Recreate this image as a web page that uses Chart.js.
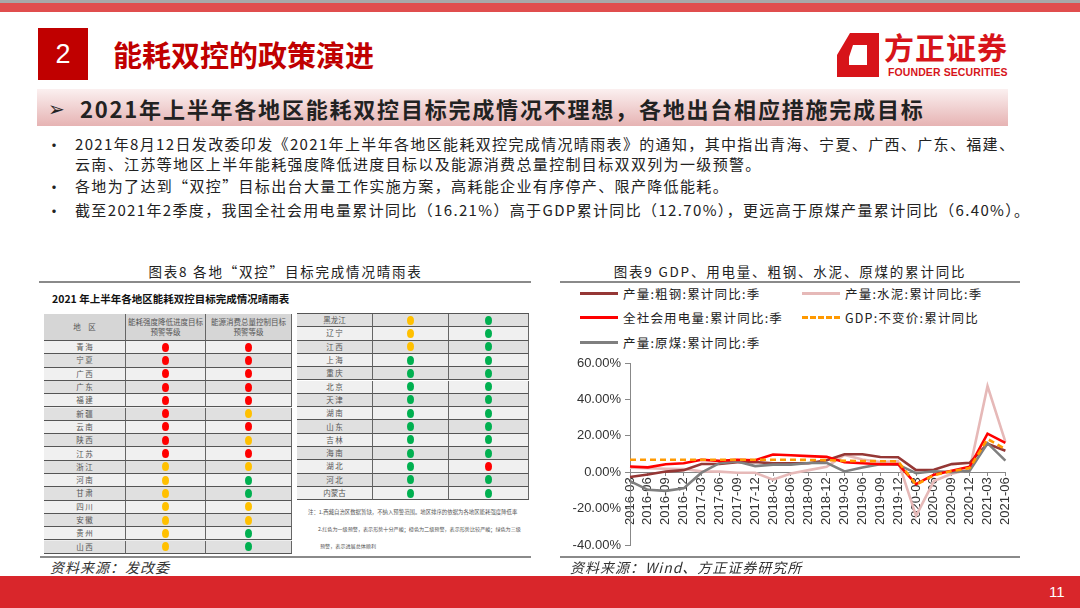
<!DOCTYPE html>
<html>
<head>
<meta charset="utf-8">
<script src="https://cdn.jsdelivr.net/npm/chart.js@4.4.1/dist/chart.umd.min.js"></script>
<style>
  body { margin: 0; width: 1080px; height: 608px; position: relative; overflow: hidden; background: #fff;
         font-family: "Noto Sans CJK SC", sans-serif; color: #222; }
  .abs { position: absolute; white-space: nowrap; }
  .bullet { position: absolute; left: 46px; font-size: 16px; line-height: 20px; }
  .line { position: absolute; left: 75px; font-size: 15px; letter-spacing: 1.35px; white-space: nowrap; line-height: 20px; }
  .cell { position: absolute; box-sizing: border-box; border-right: 1px solid #666; border-bottom: 1px solid #555;
          font-size: 7.5px; color: #555; text-align: center; display: flex; align-items: center; justify-content: center; line-height: 10px; }
  .dot { width: 7px; height: 9px; border-radius: 50%; display: inline-block; }
  .leg { position: absolute; font-size: 12.5px; letter-spacing: 1.2px; color: #222; white-space: nowrap; }
</style>
</head>
<body>

<!-- header -->
<div class="abs" style="left:0;top:0;width:1080px;height:3px;background:#a8a8a8"></div>
<div class="abs" style="left:0;top:3px;width:1080px;height:9px;background:#e04e4e"></div>
<div class="abs" style="left:38px;top:28px;width:50px;height:52px;background:#c00000;color:#fff;font-size:27px;font-family:'Liberation Sans',sans-serif;text-align:center;line-height:52px">2</div>
<div class="abs" style="left:113px;top:34px;font-size:29px;font-weight:bold;color:#c00000;line-height:40px">能耗双控的政策演进</div>

<svg class="abs" style="left:830px;top:28px" width="56" height="56">
  <path fill="#d7141a" fill-rule="evenodd"
        d="M20 5 L49 5 L49 49 L7 49 L7 27 Z M23 17 L37 17 L37 37 L19 37 L19 29 Z"/>
</svg>
<div class="abs" style="left:884px;top:29px;font-size:30px;font-weight:bold;color:#d7141a;line-height:34px;letter-spacing:1px">方正证券</div>
<div class="abs" style="left:888px;top:67px;font-size:10.5px;font-weight:bold;color:#d7141a;font-family:'Liberation Sans',sans-serif;letter-spacing:0.1px;line-height:11px">FOUNDER SECURITIES</div>

<!-- subtitle band -->
<div class="abs" style="left:37px;top:89px;width:971px;height:37px;background:linear-gradient(to bottom,#fbf0f0,#e6b3b3)"></div>
<div class="abs" style="left:48px;top:92px;font-size:20px;line-height:32px;color:#222">➢</div>
<div class="abs" style="left:80px;top:91px;font-size:22px;font-weight:bold;letter-spacing:1.8px;line-height:34px;color:#222">2021年上半年各地区能耗双控目标完成情况不理想，各地出台相应措施完成目标</div>

<!-- bullets -->
<div class="bullet" style="top:134px">•</div>
<div class="line" style="top:134px">2021年8月12日发改委印发《2021年上半年各地区能耗双控完成情况晴雨表》的通知，其中指出青海、宁夏、广西、广东、福建、</div>
<div class="line" style="top:154px">云南、江苏等地区上半年能耗强度降低进度目标以及能源消费总量控制目标双双列为一级预警。</div>
<div class="bullet" style="top:176px">•</div>
<div class="line" style="top:176px">各地为了达到“双控”目标出台大量工作实施方案，高耗能企业有序停产、限产降低能耗。</div>
<div class="bullet" style="top:200px">•</div>
<div class="line" style="top:200px">截至2021年2季度，我国全社会用电量累计同比（16.21%）高于GDP累计同比（12.70%），更远高于原煤产量累计同比（6.40%）。</div>

<!-- captions -->
<div class="abs" style="left:40px;top:262px;width:491px;text-align:center;font-size:13.5px;letter-spacing:1.8px;line-height:18px">图表8 各地“双控”目标完成情况晴雨表</div>
<div class="abs" style="left:39px;top:281px;width:492px;height:2px;background:#8a8a8a"></div>
<div class="abs" style="left:560px;top:262px;width:460px;text-align:center;font-size:13.5px;letter-spacing:1.8px;line-height:18px">图表9 GDP、用电量、粗钢、水泥、原煤的累计同比</div>
<div class="abs" style="left:560px;top:281px;width:460px;height:2px;background:#8a8a8a"></div>

<!-- left table -->
<div class="abs" style="left:52px;top:291px;font-size:10.5px;font-weight:bold;color:#111;line-height:16px">2021 年上半年各地区能耗双控目标完成情况晴雨表</div>
<div id="tables"></div>
<div class="abs" style="left:308px;top:508px;font-size:5.4px;color:#555">注：1.西藏自治区数据暂缺，不纳入预警范围。地区排序的依据为各地区能耗强度降低率</div>
<div class="abs" style="left:318px;top:525px;font-size:5.1px;color:#555">2.红色为一级预警，表示形势十分严峻；橙色为二级预警，表示形势比较严峻；绿色为三级</div>
<div class="abs" style="left:320px;top:542px;font-size:5.1px;color:#555">预警，表示进展总体顺利</div>

<!-- right chart -->
<div id="legend"></div>
<div class="abs" style="left:560px;top:350px;width:463px;height:207px">
  <canvas id="myChart"></canvas>
</div>

<!-- footer -->
<div class="abs" style="left:40px;top:556px;width:491px;height:2px;background:#8a8a8a"></div>
<div class="abs" style="left:560px;top:556px;width:460px;height:2px;background:#8a8a8a"></div>
<div class="abs" style="left:50px;top:558px;font-size:14px;font-style:italic;color:#333;line-height:18px;letter-spacing:1px">资料来源：发改委</div>
<div class="abs" style="left:570px;top:558px;font-size:14px;font-style:italic;color:#333;line-height:18px;letter-spacing:1px">资料来源：Wind、方正证券研究所</div>
<div class="abs" style="left:0;top:576px;width:1080px;height:32px;background:#d9262b"></div>
<div class="abs" style="left:1049px;top:583px;font-size:15px;color:#fff;font-family:'Liberation Sans',sans-serif;line-height:18px">11</div>

<script>
// line chart data (cumulative yoy, %)
const quarters = ['2016-03','2016-06','2016-09','2016-12','2017-03','2017-06','2017-09','2017-12',
  '2018-03','2018-06','2018-09','2018-12','2019-03','2019-06','2019-09','2019-12',
  '2020-03','2020-06','2020-09','2020-12','2021-03','2021-06'];
const steel = [-2.6,-1.2,0.4,1.2,4.6,4.6,5.6,5.7,4.9,5.0,5.0,6.6,9.9,9.9,8.4,8.3,1.2,1.4,4.5,5.2,15.6,11.8];
const cement = [2.5,2.2,2.0,1.8,0.5,0.4,-0.2,-0.2,-4.0,-0.6,1.2,3.0,9.5,7.0,5.7,6.1,-23.9,-4.8,-0.8,1.6,47.3,16.7];
const power = [3.2,2.7,4.4,5.0,6.9,6.3,6.9,6.6,9.8,9.4,8.9,8.5,5.5,5.0,4.4,4.5,-6.5,-1.3,0.9,3.1,21.2,16.21];
const gdp = [6.9,6.9,6.9,6.9,6.9,6.9,6.9,6.9,6.9,6.9,6.8,6.7,6.3,6.2,6.1,6.0,-6.8,-1.6,0.7,2.3,18.3,12.7];
const coal = [-4.8,-9.6,-10.2,-8.8,-0.2,5.0,5.9,3.4,4.2,4.2,5.1,5.2,0.5,2.6,4.5,4.2,-0.5,0.6,0.1,0.9,16.0,6.4];
const yTicks = [-40, -20, 0, 20, 40, 60];

const seriesNames = ['产量:粗钢:累计同比:季','产量:水泥:累计同比:季','全社会用电量:累计同比:季','GDP:不变价:累计同比','产量:原煤:累计同比:季'];
const seriesColors = ['#953735','#e6b9b8','#ff0000','#ff9900','#7f7f7f'];
const seriesData = [steel, cement, power, gdp, coal];
const drawOrder = [3, 4, 1, 0, 2]; // lower = on top

// weather table data
const leftRegions = ['青 海','宁 夏','广 西','广 东','福 建','新 疆','云 南','陕 西','江 苏','浙 江','河 南','甘 肃','四 川','安 徽','贵 州','山 西'];
const leftIntensity = ['r','r','r','r','r','r','r','r','r','y','y','y','y','y','y','y'];
const leftTotal = ['r','r','r','r','r','y','r','y','r','y','g','g','y','y','g','g'];
const rightRegions = ['黑龙江','辽 宁','江 西','上 海','重 庆','北 京','天 津','湖 南','山 东','吉 林','海 南','湖 北','河 北','内蒙古'];
const rightIntensity = ['y','y','y','g','g','g','g','g','g','g','g','g','g','g'];
const rightTotal = ['g','g','g','g','g','g','g','g','g','g','g','r','g','g'];
const dotColors = { r: '#ff0000', y: '#ffc000', g: '#00b050' };

function cell(x, y, w, h, bg, html) {
  return `<div class="cell" style="left:${x}px;top:${y}px;width:${w}px;height:${h}px;background:${bg}">${html}</div>`;
}
function dot(c) {
  return `<span class="dot" style="background:${dotColors[c]}"></span>`;
}

function buildTables() {
  let html = '';
  const rowH = 13.3;
  // left
  const lx = [44, 126, 206], lw = [82, 80, 86];
  const headTop = 314, headH = 27;
  html += `<div class="abs" style="left:44px;top:${headTop}px;width:248px;height:${headH + rowH * leftRegions.length}px;background:#eee"></div>`;
  html += cell(lx[0], headTop, lw[0], headH, '#d6d6d6', '地　区');
  html += cell(lx[1], headTop, lw[1], headH, '#d6d6d6', '能耗强度降低进度目标<br>预警等级');
  html += cell(lx[2], headTop, lw[2], headH, '#d6d6d6', '能源消费总量控制目标<br>预警等级');
  for (let i = 0; i < leftRegions.length; i++) {
    const y = headTop + headH + i * rowH;
    const bg = i % 2 === 0 ? '#f0f0f0' : '#e0e0e0';
    html += cell(lx[0], y, lw[0], rowH, bg, leftRegions[i]);
    html += cell(lx[1], y, lw[1], rowH, bg, dot(leftIntensity[i]));
    html += cell(lx[2], y, lw[2], rowH, bg, dot(leftTotal[i]));
  }
  // right
  const rx = [297, 373, 449], rw = [76, 76, 80];
  html += `<div class="abs" style="left:297px;top:${headTop - 1}px;width:232px;height:1px;background:#555"></div>`;
  for (let i = 0; i < rightRegions.length; i++) {
    const y = headTop + i * rowH;
    const bg = i % 2 === 0 ? '#e0e0e0' : '#f0f0f0';
    html += cell(rx[0], y, rw[0], rowH, bg, rightRegions[i]);
    html += cell(rx[1], y, rw[1], rowH, bg, dot(rightIntensity[i]));
    html += cell(rx[2], y, rw[2], rowH, bg, dot(rightTotal[i]));
  }
  document.querySelector('#tables').innerHTML = html;
}

function buildLegend() {
  const slots = [[580, 294], [802, 294], [580, 318], [802, 318], [580, 343]];
  let html = '';
  for (let i = 0; i < seriesNames.length; i++) {
    const [x, y] = slots[i];
    const style = i === 3 ? `border-top:3px dashed ${seriesColors[i]}` : `border-top:3px solid ${seriesColors[i]}`;
    html += `<div class="abs" style="left:${x}px;top:${y - 2}px;width:38px;height:0;${style}"></div>`;
    html += `<div class="leg" style="left:${x + 43}px;top:${y - 9}px;line-height:18px">${seriesNames[i]}</div>`;
  }
  document.querySelector('#legend').innerHTML = html;
}

function chartMain() {
  const ctx = document.querySelector('#myChart');
  const datasets = seriesData.map((d, i) => ({
    label: seriesNames[i],
    data: d,
    borderColor: seriesColors[i],
    backgroundColor: seriesColors[i],
    borderWidth: 2.6,
    borderDash: i === 3 ? [6, 4] : [],
    pointRadius: 0,
    tension: 0,
    fill: false,
    order: drawOrder[i]
  }));

  new Chart(ctx, {
    type: 'line',
    data: { labels: quarters, datasets: datasets },
    options: {
      responsive: true,
      maintainAspectRatio: false,
      animation: false,
      layout: { padding: { left: 0, right: 8, top: 13, bottom: 0 } },
      plugins: { legend: { display: false }, tooltip: { enabled: false } },
      scales: {
        x: {
          type: 'category',
          position: { y: 0 },
          offset: false,
          grid: { drawOnChartArea: false, tickLength: 3, color: '#888' },
          border: { color: '#888', width: 1 },
          ticks: { autoSkip: false, minRotation: 90, maxRotation: 90, padding: 2, color: '#333',
                   font: { family: 'Liberation Sans', size: 13 } },
          afterFit: (s) => { s.height = 0; }
        },
        y: {
          min: yTicks[0],
          max: yTicks[yTicks.length - 1],
          afterBuildTicks: (s) => { s.ticks = yTicks.map(v => ({ value: v })); },
          grid: { drawOnChartArea: false, tickLength: 5, color: '#888' },
          border: { color: '#888', width: 1 },
          ticks: { color: '#333', padding: 4, font: { family: 'Liberation Sans', size: 13 },
                   callback: (v) => Number(v).toFixed(2) + '%' },
          afterFit: (s) => { s.width = 70; }
        }
      }
    }
  });
}

buildTables();
buildLegend();
chartMain();
</script>
</body>
</html>
